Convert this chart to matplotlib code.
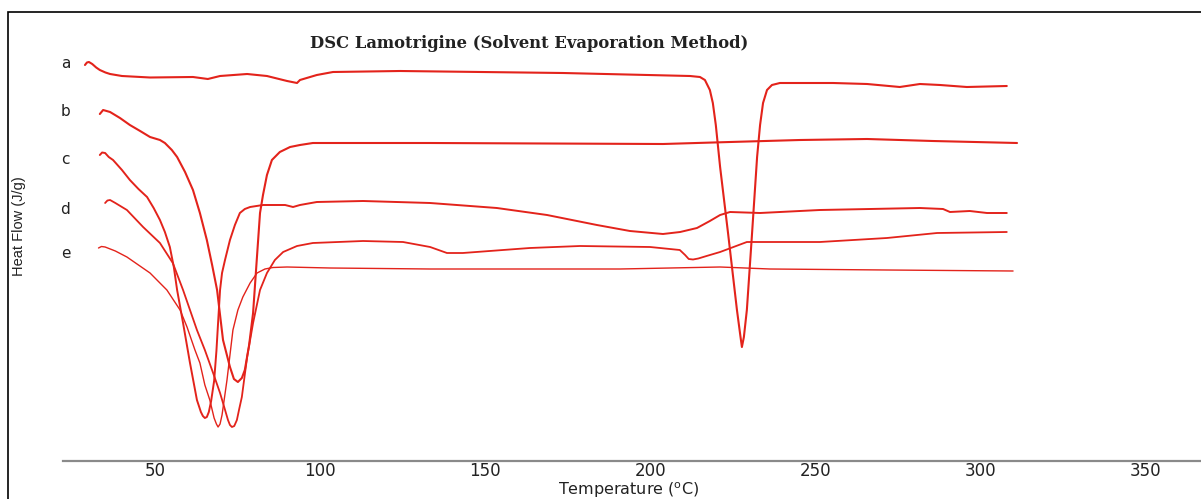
import matplotlib
matplotlib.use("Agg")
import matplotlib.pyplot as plt
from matplotlib.patches import Rectangle

# ---------- DATA (temperature in C, heat flow in arbitrary offset units) ----------
a_temp = [28.8, 29.4, 30.0, 31.0, 32.2, 33.3, 35.0, 36.4, 40.0, 48.5, 61.5, 66.0,
          69.7, 77.9, 83.9, 90.0, 93.0, 93.9, 99.0, 103.9, 124.2, 173.5, 212.0,
          215.0, 216.5, 218.0, 218.9, 219.8, 221.1, 222.3, 223.5, 226.2, 227.2,
          227.7, 228.3, 229.2, 230.7, 232.3, 233.2, 234.1, 235.3, 236.8, 239.2,
          255.3, 265.6, 275.5, 281.6, 287.7, 295.8, 307.9]
a_heat = [39.6, 39.85, 39.9, 39.7, 39.35, 39.1, 38.85, 38.7, 38.5, 38.35, 38.4, 38.2,
          38.5, 38.7, 38.5, 38.0, 37.8, 38.1, 38.6, 38.9, 39.0, 38.8, 38.5,
          38.4, 38.1, 37.1, 35.8, 33.6, 29.4, 26.1, 22.8, 15.1, 12.6,
          11.4, 12.4, 15.1, 22.4, 30.4, 33.6, 35.8, 37.1, 37.6, 37.8,
          37.8, 37.7, 37.4, 37.7, 37.6, 37.4, 37.5]

b_temp = [33.3, 34.3, 36.4, 39.4, 42.4, 45.5, 48.5, 51.5, 53.0, 55.1, 56.7, 59.1,
          61.5, 63.6, 65.7, 67.3, 68.8, 70.6, 72.7, 73.9, 75.1, 76.3, 77.2, 78.5,
          79.7, 80.6, 81.8, 82.7, 83.9, 85.4, 87.8, 90.9, 93.9, 97.8, 133.3, 203.8,
          224.1, 245.3, 265.6, 285.5, 311.0]
b_heat = [34.7, 35.1, 34.9, 34.3, 33.6, 33.0, 32.4, 32.1, 31.8, 31.1, 30.4, 28.9,
          27.1, 24.8, 22.1, 19.6, 17.1, 12.1, 9.4, 8.2, 7.9, 8.3, 9.1, 11.6,
          14.8, 19.1, 24.8, 26.6, 28.6, 30.1, 30.9, 31.4, 31.6, 31.8, 31.8, 31.7,
          31.9, 32.1, 32.2, 32.0, 31.8]

c_temp = [33.3, 34.0, 34.9, 36.0, 37.3, 40.0, 42.4, 45.0, 47.6, 49.6, 51.5, 53.0,
          54.5, 55.7, 56.7, 58.5, 60.6, 62.7, 63.9, 64.5, 65.1, 65.7, 66.3, 67.0,
          67.9, 68.6, 69.1, 69.7, 70.3, 71.2, 72.7, 74.2, 75.7, 77.2, 78.8, 82.7,
          89.4, 91.8, 93.9, 99.0, 113.0, 133.3, 153.5, 168.7, 183.8, 193.8, 203.8,
          209.0, 214.1, 218.0, 221.1, 224.1, 233.2, 251.3, 281.6, 288.6, 290.7,
          296.7, 301.9, 307.9]
c_heat = [30.6, 30.85, 30.8, 30.4, 30.1, 29.1, 28.1, 27.2, 26.4, 25.3, 24.1, 22.9,
          21.4, 19.4, 17.1, 13.8, 9.8, 6.1, 4.9, 4.5, 4.3, 4.4, 4.9, 6.0,
          8.0, 11.0, 13.8, 17.1, 18.8, 20.1, 22.1, 23.6, 24.8, 25.2, 25.4, 25.6,
          25.6, 25.4, 25.6, 25.9, 26.0, 25.8, 25.3, 24.6, 23.6, 23.0, 22.7,
          22.9, 23.3, 24.0, 24.6, 24.9, 24.8, 25.1, 25.3, 25.2, 24.9,
          25.0, 24.8, 24.8]

d_temp = [34.9, 35.6, 36.4, 38.0, 41.5, 46.4, 51.5, 55.4, 58.5, 60.6, 62.7, 65.1,
          67.6, 69.7, 70.6, 72.1, 72.7, 73.3, 74.0, 74.8, 75.5, 76.3, 77.9, 79.7,
          81.8, 83.9, 86.3, 88.8, 93.0, 97.8, 113.0, 125.1, 133.3, 138.4, 143.2,
          163.5, 178.7, 199.9, 208.9, 210.5, 211.6, 212.9, 214.5, 217.0, 221.1,
          229.2, 251.3, 271.6, 286.8, 307.9]
d_heat = [25.8, 26.05, 26.1, 25.8, 25.1, 23.4, 21.8, 19.8, 17.1, 15.1, 13.1, 11.1,
          8.8, 6.8, 5.8, 4.1, 3.6, 3.4, 3.5, 4.1, 5.2, 6.4, 10.4, 13.8,
          17.1, 18.8, 20.1, 20.9, 21.5, 21.8, 22.0, 21.9, 21.4, 20.8, 20.8,
          21.3, 21.5, 21.4, 21.1, 20.6, 20.2, 20.15, 20.25, 20.5, 20.9,
          21.9, 21.9, 22.3, 22.8, 22.9]

e_temp = [32.9, 33.8, 34.9, 38.0, 41.5, 48.5, 53.6, 57.6, 59.7, 62.1, 63.6, 65.1,
          66.6, 67.9, 68.6, 69.1, 69.7, 70.3, 71.8, 72.7, 73.6, 75.1, 76.6, 78.8,
          80.9, 83.3, 85.7, 90.0, 103.0, 133.3, 163.5, 190.8, 221.1, 236.2, 271.6,
          309.8]
e_heat = [21.3, 21.45, 21.4, 21.0, 20.4, 18.8, 17.1, 15.1, 13.4, 11.1, 9.8, 7.6,
          6.1, 4.3, 3.7, 3.4, 3.7, 4.6, 8.1, 10.6, 13.1, 15.1, 16.4, 17.8,
          18.8, 19.2, 19.35, 19.4, 19.3, 19.2, 19.2, 19.2, 19.4, 19.2, 19.1,
          19.0]

curve_names = ["a", "b", "c", "d", "e"]
label_heat = [39.7, 34.9, 30.1, 25.2, 20.7]
x_ticks = [50, 100, 150, 200, 250, 300, 350]

RED = "#e3231b"

# ---------- FIGURE ----------
W, H = 1201, 499
fig = plt.figure(figsize=(W / 100, H / 100), dpi=100)
ax = fig.add_axes([63 / W, (H - 461) / H, 1 - 63 / W, (461 - 12) / H])

curves = [(a_temp, a_heat, 1.5), (b_temp, b_heat, 1.5), (c_temp, c_heat, 1.4),
          (d_temp, d_heat, 1.3), (e_temp, e_heat, 1.0)]
for temps, heats, lw in curves:
    ax.plot(temps, heats, color=RED, lw=lw, solid_joinstyle="round",
            solid_capstyle="round")

for name, y in zip(curve_names, label_heat):
    ax.text(22.9, y, name, fontsize=11, ha="center", va="center", color="#222222")

ax.set_xlim(22.15, 366.7)
ax.set_ylim(0, 44.9)
ax.set_xticks(x_ticks)
ax.tick_params(axis="x", length=0, pad=1, labelsize=12, labelcolor="#222222")
ax.set_yticks([])
for side in ["top", "right", "left"]:
    ax.spines[side].set_visible(False)
ax.spines["bottom"].set_color("#8a8a8a")
ax.spines["bottom"].set_linewidth(1.6)
ax.patch.set_alpha(0)

fig.text(529 / W, 1 - 43 / H, "DSC Lamotrigine (Solvent Evaporation Method)",
         family="DejaVu Serif", weight="bold", fontsize=11.8, ha="center",
         va="center", color="#222222")
fig.text(629 / W, 1 - 490 / H, r"Temperature ($^{\mathrm{o}}$C)", fontsize=11.5,
         ha="center", va="center", color="#222222")
fig.text(19 / W, 1 - 226 / H, "Heat Flow (J/g)", rotation=90,
         family="Liberation Sans", fontsize=10.5,
         ha="center", va="center", color="#222222")

# figure frame
fig.patches.append(Rectangle((8 / W, -0.05), 1.2, 1 - 12 / H + 0.05,
                             transform=fig.transFigure, fill=False,
                             edgecolor="black", lw=1.2, clip_on=False))

fig.savefig("out.png", dpi=100)
